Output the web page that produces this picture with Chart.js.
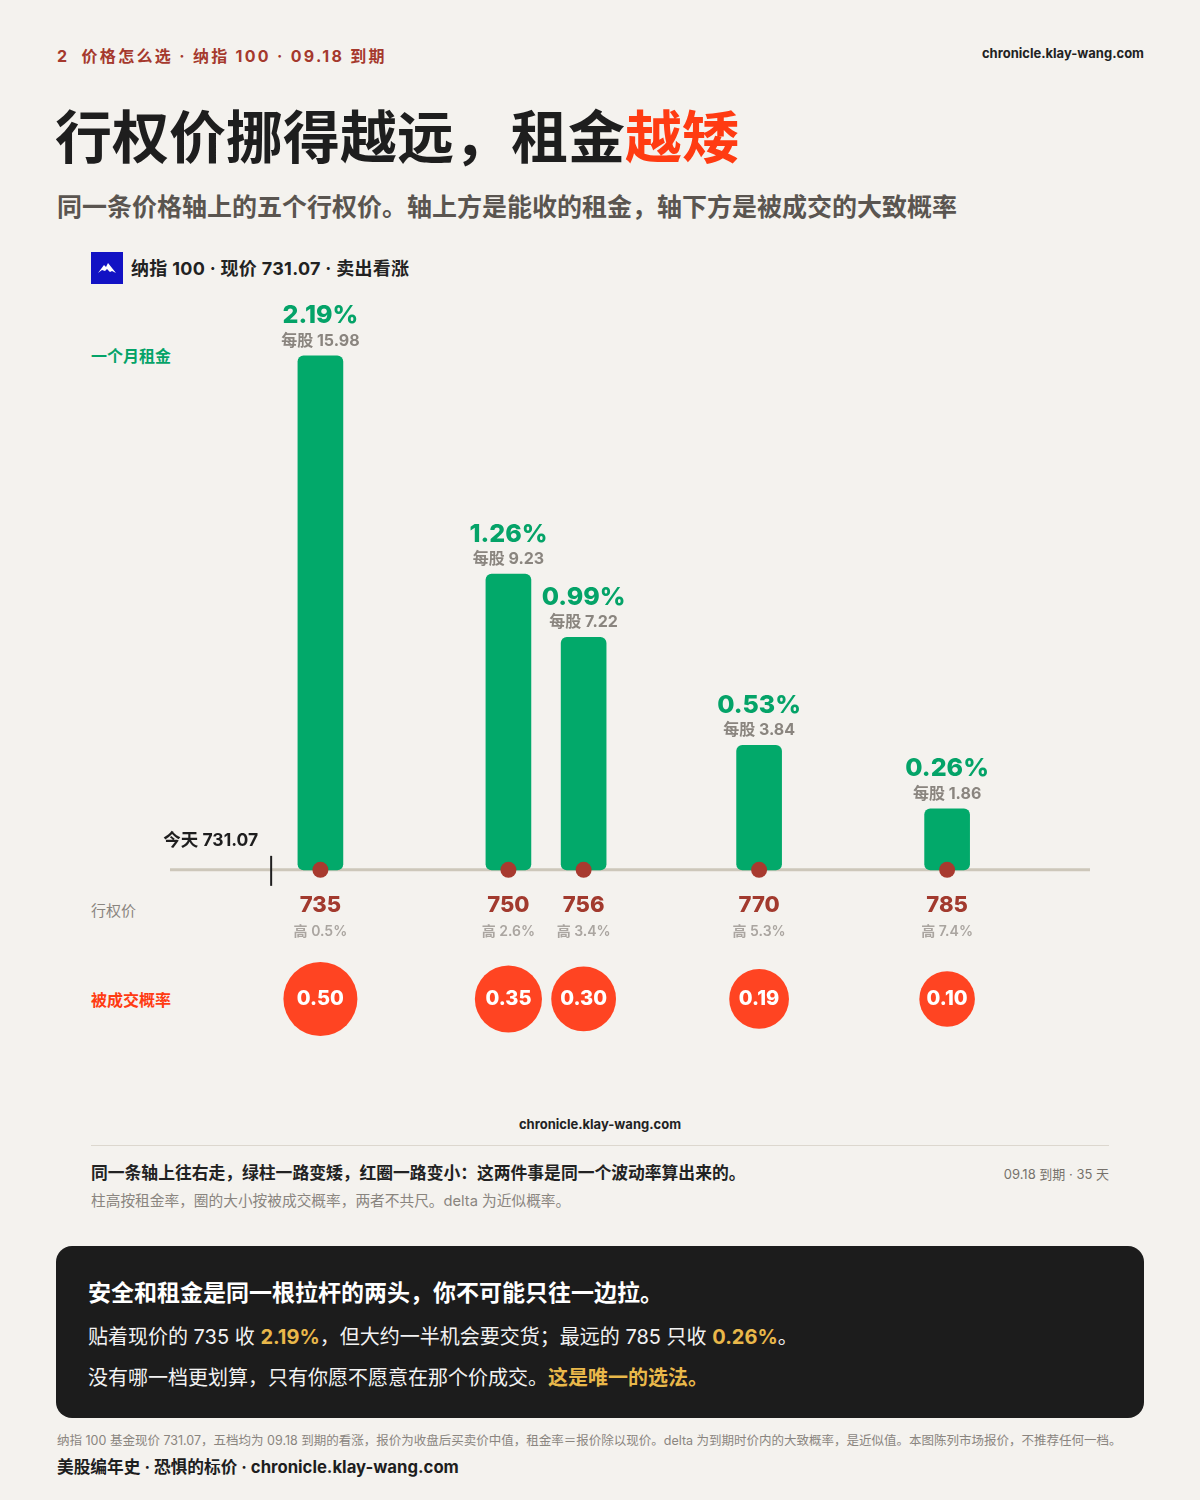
<!DOCTYPE html>
<html>
<head>
<meta charset="utf-8">
<script src="https://cdn.jsdelivr.net/npm/chart.js@4.4.1/dist/chart.umd.min.js"></script>
<style>
  html, body { margin: 0; padding: 0; }
  body {
    width: 1200px; height: 1500px; position: relative; overflow: hidden;
    background: #f4f2ee; color: #1e1e1e;
    font-family: Inter, "Noto Sans CJK SC", sans-serif;
  }
  .abs { position: absolute; white-space: nowrap; }
  .kicker { left: 57px; top: 43px; font-size: 16px; font-weight: 700; color: #a5392d; letter-spacing: 2.3px; }
  .site { right: 56px; top: 45px; font-size: 13px; font-weight: 700; color: #222; }
  h1 { position: absolute; left: 55px; top: 98px; margin: 0; font-size: 57px; font-weight: 700; color: #1e1e1e; line-height: 80px; }
  h1 span { color: #ff3b12; }
  .sub { left: 57px; top: 187px; font-size: 25px; font-weight: 600; color: #5a5550; }
  .logo { left: 91px; top: 252px; width: 32px; height: 32px; background: #1212c4; }
  .legend { left: 131px; top: 254px; font-size: 18px; font-weight: 700; color: #222; letter-spacing: 0.3px; }
  .lab-rent { left: 91px; top: 343px; font-size: 16px; font-weight: 700; color: #04a368; }
  .lab-strike { left: 91px; top: 899px; font-size: 15px; color: #8a857f; }
  .lab-prob { left: 91px; top: 987px; font-size: 16px; font-weight: 700; color: #ff3b12; }
  #wrap { position: absolute; left: 0; top: 290px; width: 1200px; height: 770px; }
  .site2 { left: 0; width: 1200px; text-align: center; top: 1116px; font-size: 13px; font-weight: 700; color: #222; }
  .hr { left: 91px; top: 1145px; width: 1018px; height: 1px; background: #dcd7ce; }
  .note1 { left: 91px; top: 1160px; font-size: 16.8px; font-weight: 700; color: #222; }
  .note1r { right: 91px; top: 1164px; font-size: 13px; color: #77726c; }
  .note2 { left: 91px; top: 1189px; font-size: 14.7px; color: #8a857f; }
  .box { left: 56px; top: 1246px; width: 1088px; height: 172px; background: #1c1c1c; border-radius: 16px; }
  .b1 { left: 88px; top: 1274px; font-size: 23px; font-weight: 700; color: #fff; }
  .b2 { left: 88px; top: 1321px; font-size: 20px; color: #f2f2f2; }
  .b3 { left: 88px; top: 1362px; font-size: 20px; color: #f2f2f2; }
  .hl { color: #e9b84a; font-weight: 700; }
  .foot1 { left: 57px; top: 1430px; font-size: 12.5px; color: #8a857f; }
  .foot2 { left: 57px; top: 1454px; font-size: 16.7px; font-weight: 700; color: #1e1e1e; }
</style>
</head>
<body>
<div class="abs kicker">2&nbsp;&nbsp;价格怎么选 · 纳指 100 · 09.18 到期</div>
<div class="abs site">chronicle.klay-wang.com</div>
<h1>行权价挪得越远，租金<span>越矮</span></h1>
<div class="abs sub">同一条价格轴上的五个行权价。轴上方是能收的租金，轴下方是被成交的大致概率</div>

<div class="abs logo">
  <svg width="32" height="32" viewBox="0 0 32 32">
    <path d="M7 21 L13 13 L15 15 L17 11 L25 21 L21 19 L19 20 L16 17 L14 19 L11 18 Z" fill="#fff"/>
  </svg>
</div>
<div class="abs legend">纳指 100 · 现价 731.07 · 卖出看涨</div>
<div class="abs lab-rent">一个月租金</div>
<div class="abs lab-strike">行权价</div>
<div class="abs lab-prob">被成交概率</div>

<div id="wrap"><canvas id="chart"></canvas></div>

<div class="abs site2">chronicle.klay-wang.com</div>
<div class="abs hr"></div>
<div class="abs note1">同一条轴上往右走，绿柱一路变矮，红圈一路变小：这两件事是同一个波动率算出来的。</div>
<div class="abs note1r">09.18 到期 · 35 天</div>
<div class="abs note2">柱高按租金率，圈的大小按被成交概率，两者不共尺。delta 为近似概率。</div>

<div class="abs box"></div>
<div class="abs b1">安全和租金是同一根拉杆的两头，你不可能只往一边拉。</div>
<div class="abs b2">贴着现价的 735 收 <span class="hl">2.19%</span>，但大约一半机会要交货；最远的 785 只收 <span class="hl">0.26%</span>。</div>
<div class="abs b3">没有哪一档更划算，只有你愿不愿意在那个价成交。<span class="hl">这是唯一的选法。</span></div>

<div class="abs foot1">纳指 100 基金现价 731.07，五档均为 09.18 到期的看涨，报价为收盘后买卖价中值，租金率＝报价除以现价。delta 为到期时价内的大致概率，是近似值。本图陈列市场报价，不推荐任何一档。</div>
<div class="abs foot2">美股编年史 · 恐惧的标价 · chronicle.klay-wang.com</div>

<script>
// values
const spot = 731.07;
const strikes = [735, 750, 756, 770, 785];
const rentPct = [2.19, 1.26, 0.99, 0.53, 0.26];
const perShare = [15.98, 9.23, 7.22, 3.84, 1.86];
const otmPct = [0.5, 2.6, 3.4, 5.3, 7.4];
const fillProb = [0.50, 0.35, 0.30, 0.19, 0.10];

const FONT = 'Inter, "Noto Sans CJK SC", sans-serif';
const PROB_ROW = -0.55; // y value of the probability row, below the axis

const labelsPlugin = {
    id: 'labels',
    beforeDatasetsDraw(chart) {
        const { ctx } = chart;
        const x = chart.scales.x, y = chart.scales.y;
        const y0 = y.getPixelForValue(0);
        // price axis
        ctx.save();
        ctx.strokeStyle = '#cdc7ba';
        ctx.lineWidth = 3;
        ctx.beginPath();
        ctx.moveTo(chart.chartArea.left, y0);
        ctx.lineTo(chart.chartArea.right, y0);
        ctx.stroke();
        // today marker
        const xs = x.getPixelForValue(spot);
        ctx.strokeStyle = '#1e1e1e';
        ctx.lineWidth = 2;
        ctx.beginPath();
        ctx.moveTo(xs, y0 - 14);
        ctx.lineTo(xs, y0 + 16);
        ctx.stroke();
        ctx.fillStyle = '#1e1e1e';
        ctx.font = '700 17.5px ' + FONT;
        ctx.textAlign = 'right';
        ctx.textBaseline = 'middle';
        ctx.fillText('今天 ' + spot.toFixed(2), xs - 13, y0 - 29);
        ctx.restore();
    },
    afterDatasetsDraw(chart) {
        const { ctx } = chart;
        const y0 = chart.scales.y.getPixelForValue(0);
        const bars = chart.getDatasetMeta(0).data;
        const bubbles = chart.getDatasetMeta(2).data;
        ctx.save();
        ctx.textAlign = 'center';
        ctx.textBaseline = 'middle';
        bars.forEach((bar, i) => {
            ctx.fillStyle = '#04a368';
            ctx.font = '800 25px ' + FONT;
            ctx.fillText(rentPct[i].toFixed(2) + '%', bar.x, bar.y - 40);
            ctx.fillStyle = '#8a857f';
            ctx.font = '700 16px ' + FONT;
            ctx.fillText('每股 ' + perShare[i].toFixed(2), bar.x, bar.y - 15);
            ctx.fillStyle = '#a23a2e';
            ctx.font = '800 22px ' + FONT;
            ctx.fillText(String(strikes[i]), bar.x, y0 + 36);
            ctx.fillStyle = '#aaa5a0';
            ctx.font = '600 14px ' + FONT;
            ctx.fillText('高 ' + otmPct[i] + '%', bar.x, y0 + 62);
        });
        bubbles.forEach((b, i) => {
            ctx.fillStyle = '#fff';
            ctx.font = '800 20px ' + FONT;
            ctx.fillText(fillProb[i].toFixed(2), b.x, b.y);
        });
        ctx.restore();
    }
};

new Chart(document.getElementById('chart'), {
    type: 'bar',
    data: {
        datasets: [{
            type: 'bar',
            data: strikes.map((s, i) => ({ x: s, y: rentPct[i] })),
            backgroundColor: '#02a96a',
            barThickness: 45,
            borderRadius: 6,
            borderSkipped: false,
            order: 3
        }, {
            type: 'scatter',
            data: strikes.map(s => ({ x: s, y: 0 })),
            pointRadius: 8,
            pointBackgroundColor: '#a83a2f',
            pointBorderWidth: 0,
            order: 1
        }, {
            type: 'bubble',
            data: strikes.map((s, i) => ({ x: s, y: PROB_ROW, r: 25.5 + 23 * fillProb[i] })),
            backgroundColor: '#ff4422',
            borderWidth: 0,
            order: 2
        }]
    },
    options: {
        responsive: true,
        maintainAspectRatio: false,
        animation: false,
        layout: { autoPadding: false, padding: { left: 170, right: 110, top: 0, bottom: 0 } },
        plugins: { legend: { display: false }, tooltip: { enabled: false } },
        scales: {
            x: { type: 'linear', min: 723, max: 796.4, offset: false, display: false },
            y: { min: -0.81, max: 2.47, display: false }
        }
    },
    plugins: [labelsPlugin]
});
</script>
</body>
</html>
